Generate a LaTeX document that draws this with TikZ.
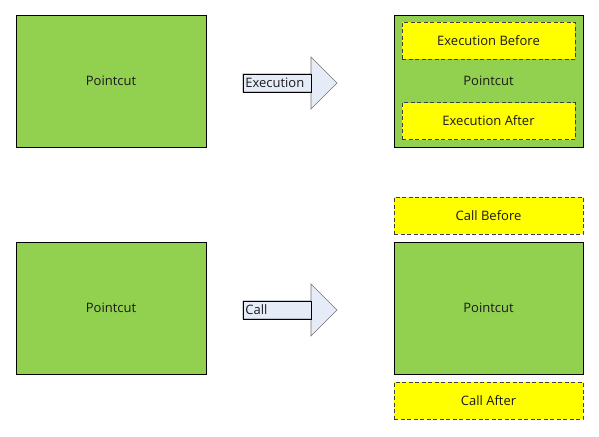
\documentclass[tikz,border=0pt]{standalone}
\usepackage{fontspec}
\setmainfont{Open Sans}
\definecolor{pgreen}{HTML}{92D050}
\definecolor{pyellow}{HTML}{FFFF00}
\definecolor{parrow}{HTML}{E6ECF7}
\definecolor{ptext}{HTML}{1A1A1A}
\begin{document}
\begin{tikzpicture}[x=1pt,y=-1pt,
  greenbox/.style={draw=black, line width=0.9pt, fill=pgreen, minimum width=190pt, minimum height=132pt, inner sep=0pt, font=\fontsize{13}{15}\selectfont, text=ptext},
  yelbox/.style={draw=black!75, dashed, dash pattern=on 4pt off 2.5pt, line width=0.9pt, fill=pyellow, minimum width=#1, minimum height=37pt, inner sep=0pt, font=\fontsize{13}{15}\selectfont, text=ptext},
  arrowshape/.style={draw=gray!90!black, fill=parrow, line width=0.6pt},
  tagbox/.style={draw=black, line width=0.7pt, minimum width=68pt, minimum height=18pt, inner sep=0pt, text width=64pt, align=left, font=\fontsize{13}{15}\selectfont, text=ptext}
]
\useasboundingbox (0,0) rectangle (599,436);
% top row
\node[greenbox] (p1) at (111,81) {Pointcut};
\node[greenbox, minimum width=189pt] (p2) at (488.5,81) {Pointcut};
\node[yelbox=173pt] (eb) at (488.5,41) {Execution Before};
\node[yelbox=173pt] (ea) at (488.5,121) {Execution After};
% arrow 1
\draw[arrowshape] (243,74) -- (311,74) -- (311,57) -- (337,83) -- (311,109) -- (311,92) -- (243,92) -- cycle;
\node[tagbox, anchor=west] (t1) at (243,83) {Execution};
% bottom row
\node[greenbox] (p3) at (111,308) {Pointcut};
\node[greenbox, minimum width=189pt] (p4) at (488.5,308) {Pointcut};
\node[yelbox=189pt] (cb) at (488.5,215.5) {Call Before};
\node[yelbox=189pt] (ca) at (488.5,400.5) {Call After};
% arrow 2
\draw[arrowshape] (243,301) -- (311,301) -- (311,284) -- (337,310) -- (311,336) -- (311,319) -- (243,319) -- cycle;
\node[tagbox, anchor=west] (t2) at (243,310) {Call};
\end{tikzpicture}
\end{document}
